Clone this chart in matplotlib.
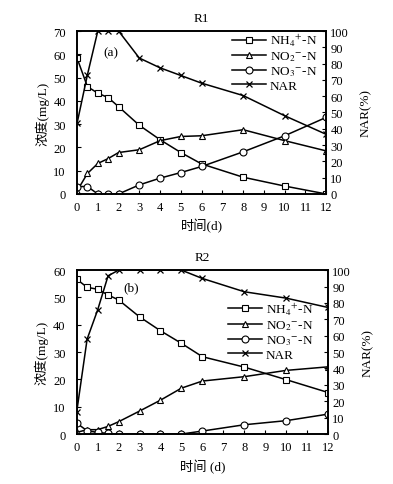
import matplotlib
matplotlib.use("Agg")
import matplotlib.pyplot as plt

plt.rcParams['font.family'] = ['Liberation Serif', 'Noto Sans CJK SC']
plt.rcParams['mathtext.fontset'] = 'stix'

days = [0, 0.5, 1, 1.5, 2, 3, 4, 5, 6, 8, 10, 12]
x_ticks = list(range(0, 13))

r1_nh4 = [58.4, 46.1, 43.3, 41.4, 37.5, 29.5, 23.3, 17.8, 12.9, 7.2, 3.4, 0.0]
r1_no2 = [1.3, 8.8, 13.1, 15.2, 17.8, 19.0, 22.9, 24.7, 25.0, 27.6, 22.9, 18.5]
r1_no3 = [3.2, 3.2, 0.0, 0.0, 0.0, 3.9, 6.8, 9.2, 11.8, 18.1, 25.0, 32.9]
r1_nar = [43.3, 73.1, 100, 100, 100, 83.4, 77.4, 72.7, 68.0, 60.4, 48.0, 36.6]

r2_nh4 = [56.7, 53.7, 53.0, 50.9, 49.1, 42.9, 37.8, 33.2, 28.3, 24.5, 19.9, 15.2]
r2_no2 = [0.6, 1.6, 1.6, 2.8, 4.5, 8.4, 12.4, 16.8, 19.4, 21.0, 23.3, 24.6]
r2_no3 = [4.0, 1.2, 0.6, 0.2, 0.0, 0.0, 0.0, 0.0, 1.1, 3.4, 4.9, 7.3]
r2_nar = [13.2, 57.9, 75.6, 96.5, 100, 100, 100, 100, 94.9, 86.8, 82.9, 77.2]

labels = [r'NH$_4$$^{+}$-N', r'NO$_2$$^{-}$-N', r'NO$_3$$^{-}$-N', 'NAR']

fig = plt.figure(figsize=(3.93, 4.85), dpi=100)
FS = 9

def panel(rect, nh4, no2, no3, nar, ymax, title, tag, tagpos, legloc, legbbox, xlabel):
    ax = fig.add_axes(rect)
    ax2 = ax.twinx()
    kw = dict(color='black', lw=1.1, mfc='white', mec='black', mew=0.8)
    h1, = ax.plot(days, nh4, marker='s', ms=5, **kw)
    h2, = ax.plot(days, no2, marker='^', ms=5, **kw)
    h3, = ax.plot(days, no3, marker='o', ms=5, **kw)
    h4, = ax2.plot(days, nar, marker='x', ms=5, color='black', lw=1.1, mew=0.9)
    ax.set_xlim(0, 12)
    ax.set_ylim(0, ymax)
    ax2.set_ylim(0, 100)
    ax.set_xticks(x_ticks)
    ax.set_yticks(range(0, ymax + 1, 10))
    ax2.set_yticks(range(0, 101, 10))
    for a in (ax, ax2):
        a.tick_params(direction='in', labelsize=FS, length=3, width=0.8)
        for s in a.spines.values():
            s.set_linewidth(1.2)
    ax.tick_params(axis='x', pad=5)
    ax.tick_params(axis='y', pad=8)
    ax2.tick_params(axis='y', pad=3)
    ax.set_ylabel('浓度(mg/L)', fontsize=FS + 0.5, labelpad=3)
    ax2.set_ylabel('NAR(%)', fontsize=FS + 0.5, labelpad=8)
    ax.set_xlabel(xlabel, fontsize=FS + 0.5, labelpad=4)
    ax.set_title(title, fontsize=FS + 0.5, pad=7)
    ax.text(tagpos[0], tagpos[1], tag, fontsize=FS + 0.5, ha='center', va='center')
    ax2.legend([h1, h2, h3, h4], labels, loc=legloc, bbox_to_anchor=legbbox,
               frameon=False, fontsize=FS + 0.5,
               handlelength=2.6, handletextpad=0.3, labelspacing=0.1,
               borderaxespad=0.0, borderpad=0.2)
    return ax, ax2

panel([0.196, 0.598, 0.634, 0.336], r1_nh4, r1_no2, r1_no3, r1_nar, 70, 'R1', '(a)',
      (1.65, 61), 'upper left', (0.61, 1.01), '时间(d)')
panel([0.195, 0.103, 0.640, 0.338], r2_nh4, r2_no2, r2_no3, r2_nar, 60, 'R2', '(b)',
      (2.6, 53.6), 'upper left', (0.59, 0.83), '时间 (d)')

fig.savefig('out.png', dpi=100)
